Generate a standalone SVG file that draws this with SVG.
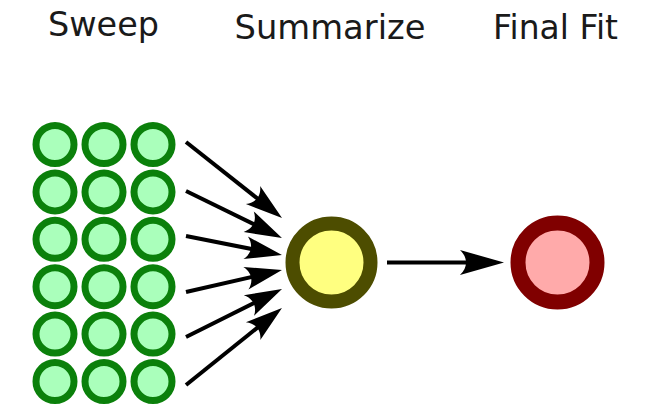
<svg xmlns="http://www.w3.org/2000/svg" width="652" height="416" viewBox="0 0 652 416">
<style>
.lbl{font-family:"DejaVu Sans","Liberation Sans",sans-serif;font-size:33px;fill:#1a1a1a;text-anchor:middle}
.g{fill:#aaffbb;stroke:#0b800b;stroke-width:7}
.y{fill:#ffff80;stroke:#4d4d00;stroke-width:14}
.r{fill:#ffaaaa;stroke:#800000;stroke-width:15}
.c{fill:none;stroke:#000;stroke-width:4}
.s{marker-end:url(#ms)}
.b{marker-end:url(#mb)}
</style>
<defs>
<marker id="ms" markerUnits="userSpaceOnUse" orient="auto" refX="0" refY="0" markerWidth="40" markerHeight="30" overflow="visible">
<path d="M17,0 L-20,-11.5 C-13,-4.5 -13,4.5 -20,11.5 Z" fill="#000"/>
</marker>
<marker id="mb" markerUnits="userSpaceOnUse" orient="auto" refX="0" refY="0" markerWidth="50" markerHeight="30" overflow="visible">
<path d="M22,0 L-22,-12.5 C-14,-5 -14,5 -22,12.5 Z" fill="#000"/>
</marker>
</defs>
<rect width="652" height="416" fill="#fff"/>
<text class="lbl" x="103.5" y="36" textLength="111" lengthAdjust="spacingAndGlyphs">Sweep</text>
<text class="lbl" x="330" y="39" textLength="191" lengthAdjust="spacingAndGlyphs">Summarize</text>
<text class="lbl" x="555.5" y="39" textLength="125" lengthAdjust="spacingAndGlyphs">Final Fit</text>
<g id="connectors">
<line class="c s" x1="186" y1="142" x2="268.7" y2="207.4"/>
<line class="c s" x1="186" y1="191" x2="266.7" y2="230.5"/>
<line class="c s" x1="186" y1="236" x2="265.3" y2="251.7"/>
<line class="c s" x1="186" y1="292" x2="265.4" y2="273.8"/>
<line class="c s" x1="186" y1="337" x2="266.8" y2="296.6"/>
<line class="c s" x1="186" y1="385" x2="268.7" y2="318.6"/>
<line class="c b" x1="387" y1="262.5" x2="482" y2="262.5"/>
</g>
<g id="sweep">
<g id="s11"><circle class="g" cx="55" cy="144.5" r="19"/></g>
<g id="s12"><circle class="g" cx="104" cy="144.5" r="19"/></g>
<g id="s13"><circle class="g" cx="153" cy="144.5" r="19"/></g>
<g id="s21"><circle class="g" cx="55" cy="191.9" r="19"/></g>
<g id="s22"><circle class="g" cx="104" cy="191.9" r="19"/></g>
<g id="s23"><circle class="g" cx="153" cy="191.9" r="19"/></g>
<g id="s31"><circle class="g" cx="55" cy="239.3" r="19"/></g>
<g id="s32"><circle class="g" cx="104" cy="239.3" r="19"/></g>
<g id="s33"><circle class="g" cx="153" cy="239.3" r="19"/></g>
<g id="s41"><circle class="g" cx="55" cy="286.7" r="19"/></g>
<g id="s42"><circle class="g" cx="104" cy="286.7" r="19"/></g>
<g id="s43"><circle class="g" cx="153" cy="286.7" r="19"/></g>
<g id="s51"><circle class="g" cx="55" cy="334.1" r="19"/></g>
<g id="s52"><circle class="g" cx="104" cy="334.1" r="19"/></g>
<g id="s53"><circle class="g" cx="153" cy="334.1" r="19"/></g>
<g id="s61"><circle class="g" cx="55" cy="381.5" r="19"/></g>
<g id="s62"><circle class="g" cx="104" cy="381.5" r="19"/></g>
<g id="s63"><circle class="g" cx="153" cy="381.5" r="19"/></g>
</g>
<g id="summarize"><circle class="y" cx="331.5" cy="262.5" r="39"/></g>
<g id="finalfit"><circle class="r" cx="557.5" cy="262.5" r="39.5"/></g>
</svg>
